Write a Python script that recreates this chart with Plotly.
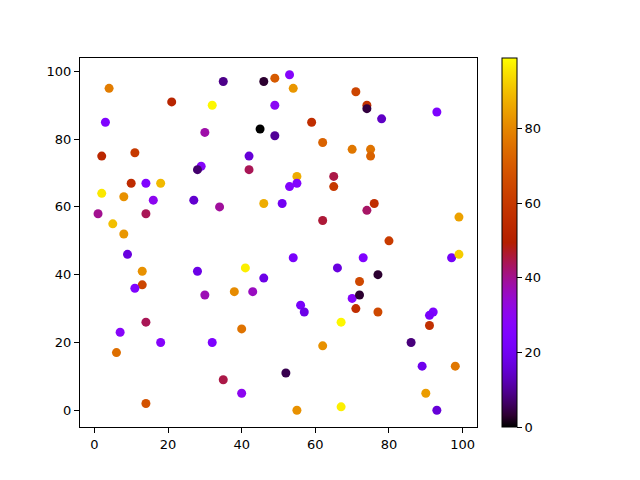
import numpy as np
import plotly.graph_objects as go

# points (x, y, colour value)
x = [4, 21, 32, 3, 30, 2, 11, 29, 28, 10, 14, 18, 2, 8, 16, 27, 34, 1, 14, 5,
     8, 35, 46, 49, 53, 54, 49, 59, 45, 49, 62, 70, 42, 42, 55, 55, 53, 65, 65, 46,
     51, 62, 71, 74, 74, 78, 93, 75, 75, 76, 74, 99, 80, 9, 13, 13, 11, 28, 30, 14,
     7, 18, 32, 6, 14, 54, 41, 66, 46, 38, 43, 70, 56, 57, 71, 67, 40, 62, 52, 35,
     40, 55, 67, 73, 97, 99, 77, 72, 72, 77, 92, 91, 91, 86, 89, 98, 90, 93]
y = [95, 91, 90, 85, 82, 75, 76, 72, 71, 67, 67, 67, 64, 63, 62, 62, 60, 58, 58, 55,
     52, 97, 97, 98, 99, 95, 90, 85, 83, 81, 79, 77, 75, 71, 69, 67, 66, 69, 66, 61,
     61, 56, 94, 90, 89, 86, 88, 77, 75, 61, 59, 57, 50, 46, 41, 37, 36, 41, 34, 26,
     23, 20, 20, 17, 2, 45, 42, 42, 39, 35, 35, 33, 31, 29, 30, 26, 24, 19, 11, 9,
     5, 0, 1, 45, 45, 46, 40, 38, 34, 29, 29, 28, 25, 20, 13, 13, 5, 0]
c = [78, 52, 98, 25, 38, 53, 60, 27, 7, 55, 25, 89, 96, 82, 30, 15, 39, 40, 44, 90,
     83, 9, 3, 70, 27, 83, 29, 56, 0, 10, 72, 77, 16, 44, 87, 26, 26, 45, 60, 87,
     20, 46, 64, 58, 4, 14, 24, 76, 72, 56, 43, 85, 61, 17, 82, 64, 25, 18, 37, 44,
     28, 27, 24, 75, 68, 22, 97, 17, 18, 81, 36, 27, 22, 18, 56, 98, 76, 82, 5, 45,
     30, 82, 97, 25, 21, 92, 3, 65, 3, 65, 24, 22, 57, 8, 19, 77, 84, 16]

# matplotlib "gnuplot" colormap
t = np.linspace(0, 1, 33)
r = np.sqrt(t)
g = t ** 3
b = np.clip(np.sin(2 * np.pi * t), 0, 1)
gnuplot = [[float(v), "rgb(%d,%d,%d)" % (rr * 255, gg * 255, bb * 255)]
           for v, rr, gg, bb in zip(t, r, g, b)]

fig = go.Figure(go.Scatter(
    x=x, y=y, mode="markers",
    marker=dict(
        color=c, colorscale=gnuplot, cmin=0, cmax=99, size=9,
        line=dict(width=0),
        colorbar=dict(
            x=1.063, xanchor="left", xpad=0, y=0.5, yanchor="middle",
            len=1, lenmode="fraction", thickness=15, ypad=0,
            outlinewidth=1, outlinecolor="black",
            tickvals=[0, 20, 40, 60, 80], ticks="outside", ticklen=5,
            tickcolor="black", tickfont=dict(size=13, color="black"),
        ),
    ),
))

axis = dict(showgrid=False, zeroline=False, showline=True, linecolor="black",
            linewidth=1, mirror=True, ticks="outside", ticklen=5,
            tickcolor="black", tickfont=dict(size=13, color="black"))
fig.update_xaxes(range=[-3.9, 103.9], tickvals=[0, 20, 40, 60, 80, 100], **axis)
fig.update_yaxes(range=[-4.95, 103.95], tickvals=[0, 20, 40, 60, 80, 100], **axis)

# page body adds 8px, so margins are pulled in by that much
fig.update_layout(
    width=640, height=480,
    margin=dict(l=72, r=171, t=50, b=61),
    paper_bgcolor="white", plot_bgcolor="white",
    font=dict(family="DejaVu Sans", color="black"),
    showlegend=False,
)

fig.write_html("out.html")
